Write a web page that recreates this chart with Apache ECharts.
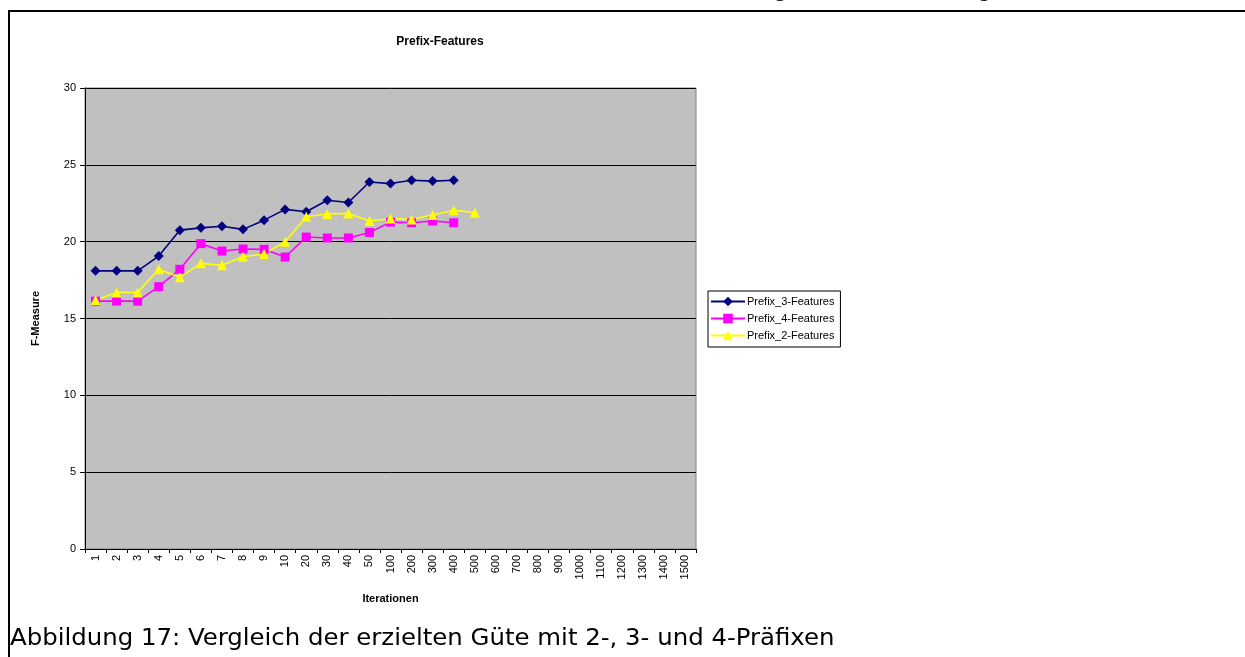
<!DOCTYPE html>
<html><head><meta charset="utf-8">
<script src="https://cdn.jsdelivr.net/npm/echarts@6/dist/echarts.min.js"></script>
<style>html,body{margin:0;padding:0;background:#fff}#c{width:1245px;height:657px}</style>
</head><body><div id="c"></div>
<script>
const categories = ['1','2','3','4','5','6','7','8','9','10','20','30','40','50','100','200','300','400','500','600','700','800','900','1000','1100','1200','1300','1400','1500'];
const prefix3 = [18.1,18.1,18.1,19.06,20.75,20.9,21.0,20.8,21.4,22.1,21.95,22.7,22.55,23.88,23.78,24.0,23.94,24.0];
const prefix4 = [16.13,16.13,16.13,17.07,18.2,19.87,19.39,19.52,19.5,19.0,20.3,20.24,20.24,20.6,21.27,21.23,21.34,21.23];
const prefix2 = [16.2,16.7,16.7,18.2,17.68,18.59,18.46,19.02,19.2,20.0,21.62,21.8,21.84,21.34,21.5,21.45,21.73,22.05,21.88];
const yTicks = [0,5,10,15,20,25,30];
const seriesNames = ['Prefix_3-Features','Prefix_4-Features','Prefix_2-Features'];

const chart = echarts.init(document.getElementById('c'), null, {renderer:'canvas'});
const font = 'Liberation Sans, Arial, sans-serif';
chart.setOption({
  animation:false,
  backgroundColor:'#fff',
  grid:{left:85,right:549,top:88,bottom:108,show:true,backgroundColor:'#C0C0C0',borderColor:'#808080',borderWidth:1},
  xAxis:{type:'category',data:categories,boundaryGap:true,
    name:'Iterationen',nameLocation:'middle',nameGap:44,
    nameTextStyle:{fontFamily:font,fontWeight:'bold',fontSize:11,color:'#000'},
    axisLine:{lineStyle:{color:'#000',width:1}},
    axisTick:{show:true,alignWithLabel:false,length:4,lineStyle:{color:'#000'}},
    axisLabel:{rotate:90,interval:0,fontFamily:font,fontSize:11,color:'#000',margin:6},
    splitLine:{show:false}},
  yAxis:{type:'value',min:0,max:30,interval:5,
    name:'F-Measure',nameLocation:'middle',nameGap:44,nameRotate:90,
    nameTextStyle:{fontFamily:font,fontWeight:'bold',fontSize:11,color:'#000'},
    axisLine:{show:true,lineStyle:{color:'#000',width:1}},
    axisTick:{show:true,length:5,lineStyle:{color:'#000'}},
    axisLabel:{fontFamily:font,fontSize:11,color:'#000',margin:9,
      formatter:v=>yTicks.includes(v)?String(v):''},
    splitLine:{show:true,lineStyle:{color:'#000',width:1}}},
  legend:{orient:'vertical',left:708,top:291,data:seriesNames,
    borderColor:'#000',borderWidth:1,padding:[5,6,6,2],itemGap:6,
    itemWidth:34,itemHeight:12,
    textStyle:{fontFamily:font,fontSize:11,color:'#000',padding:[0,0,0,-3]},
    backgroundColor:'#fff'},
  series:[
    {name:seriesNames[0],type:'line',data:prefix3,color:'#000080',symbol:'diamond',symbolSize:10,
     lineStyle:{width:1.6,color:'#000080'},itemStyle:{color:'#000080'}},
    {name:seriesNames[1],type:'line',data:prefix4,color:'#FF00FF',symbol:'rect',symbolSize:9,
     lineStyle:{width:1.6,color:'#FF00FF'},itemStyle:{color:'#FF00FF'}},
    {name:seriesNames[2],type:'line',data:prefix2,color:'#FFFF00',symbol:'triangle',symbolSize:10,
     lineStyle:{width:1.6,color:'#FFFF00'},itemStyle:{color:'#FFFF00'}}
  ],
  graphic:[
    {type:'text',x:440,y:36,style:{text:'Prefix-Features',font:'bold 12px '+font,fill:'#000',align:'center',verticalAlign:'top'}},
    {type:'text',x:781,y:-20,style:{text:'g',font:'22px "DejaVu Sans", sans-serif',fill:'#000',align:'center',verticalAlign:'top'}},
    {type:'text',x:985,y:-20,style:{text:'g',font:'22px "DejaVu Sans", sans-serif',fill:'#000',align:'center',verticalAlign:'top'}},
    {type:'line',shape:{x1:8,y1:11,x2:1245,y2:11},style:{stroke:'#000',lineWidth:2}},
    {type:'line',shape:{x1:9,y1:10,x2:9,y2:657},style:{stroke:'#000',lineWidth:2}},
    {type:'text',x:10,y:628,scaleX:1.18,style:{text:'Abbildung 17: Vergleich der erzielten Güte mit 2-, 3- und 4-Präfixen',font:'23px "DejaVu Sans Condensed", "DejaVu Sans", sans-serif',fill:'#000',verticalAlign:'top'}}
  ]
});
</script></body></html>
